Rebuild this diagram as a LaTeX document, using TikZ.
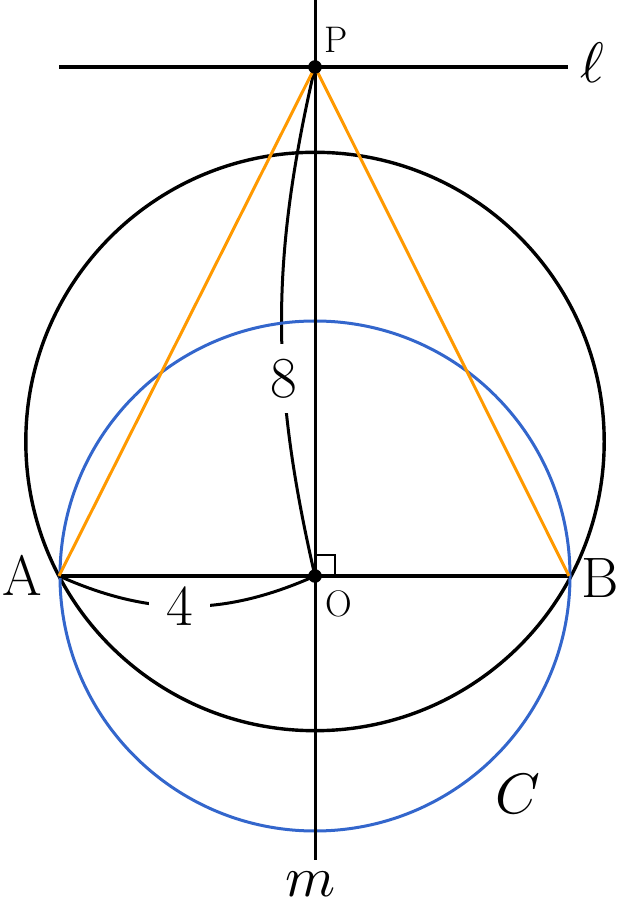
\documentclass[tikz,border=0pt]{standalone}
\usepackage{graphicx}
\definecolor{cblue}{RGB}{51,102,204}
\definecolor{corange}{RGB}{255,153,0}
\newcommand{\bigmath}[1]{\scalebox{5.7}{$#1$}}
\tikzset{
  blk/.style={line width=3.4pt, black},
  thin blk/.style={line width=3pt, black},
  bluec/.style={line width=3pt, cblue},
  orangel/.style={line width=3pt, corange},
  big/.style={inner sep=0pt, font=\fontsize{57}{60}\selectfont},
  mathlbl/.style={inner sep=0pt},
  small/.style={inner sep=0pt, font=\fontsize{37}{40}\selectfont},
  gaplbl/.style={fill=white, font=\fontsize{58}{60}\selectfont},
}
\begin{document}
\begin{tikzpicture}[x=1pt,y=1pt]
\useasboundingbox (0,0) rectangle (620,905);
\coordinate (O) at (315,329);
\coordinate (A) at (59,329);
\coordinate (B) at (569,329);
\coordinate (P) at (315,838);
\coordinate (K) at (315,463.5);
\coordinate (L1) at (59,838);
\coordinate (L2) at (568,838);
\coordinate (M1) at (315,905);
\coordinate (M2) at (315,45);
\coordinate (R1) at (315,350);
\coordinate (R2) at (335,350);
\coordinate (R3) at (335,329);

% measurement arcs
\draw[thin blk] (P) to[bend right=13] node[gaplbl, pos=0.62, inner xsep=2pt, inner ysep=15pt] (l8) {8} (O);
\draw[thin blk] (A) to[bend right=24] node[gaplbl, pos=0.47, inner xsep=17pt, inner ysep=1pt] (l4) {4} (O);

% circles
\draw[blk] (K) circle [radius=289.2pt];
\draw[bluec] (O) circle [radius=255pt];

% lines
\draw[blk] (L1) -- (L2);
\draw[thin blk] (M1) -- (M2);
\draw[blk] (A) -- (B);
\draw[line width=2.2pt] (R1) -- (R2) -- (R3);

% triangle sides
\draw[orangel] (A) -- (P) -- (B);

% points
\fill (P) circle [radius=6.8pt];
\fill (O) circle [radius=6.8pt];

% labels
\node[small] (lP) at (336,865) {P};
\node[small] (lO) at (339,301) {O};
\node[big] (lA) at (22,330) {A};
\node[big] (lB) at (600,327) {B};
\node[mathlbl, anchor=base] (lell) at (592,822) {\bigmath{\ell}};
\node[mathlbl, anchor=base] (lm) at (311,9) {\bigmath{m}};
\node[mathlbl] (lC) at (518,111) {\bigmath{C}};
\end{tikzpicture}
\end{document}
